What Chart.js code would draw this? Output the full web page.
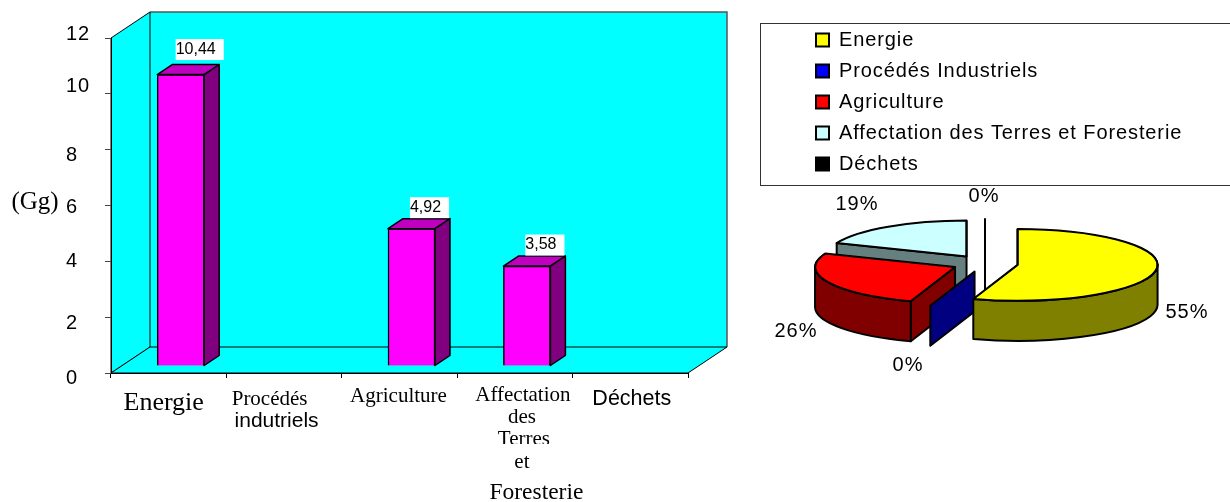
<!DOCTYPE html>
<html>
<head>
<meta charset="utf-8">
<title>Emissions par secteur</title>
<script src="https://cdn.jsdelivr.net/npm/chart.js"></script>
<style>
    body { margin: 0; background: #fff; overflow: hidden; }
    canvas { position: absolute; top: 0; }
    #barChart { left: 0; }
    #pieChart { left: 760px; }
</style>
</head>
<body>
<canvas id="barChart" width="760" height="502"></canvas>
<canvas id="pieChart" width="470" height="502"></canvas>
<script>
// Data
const categories = ['Energie', 'Procédés industriels', 'Agriculture', 'Affectation des Terres et Foresterie', 'Déchets'];
const pieLabels = ['Energie', 'Procédés Industriels', 'Agriculture', 'Affectation des Terres et Foresterie', 'Déchets'];
const values = [10.44, 0, 4.92, 3.58, 0];
const yTicks = [0, 2, 4, 6, 8, 10, 12];
const sliceColors = ['#FFFF00', '#0000FF', '#FF0000', '#CCFFFF', '#000000'];
const wallColors = ['#808000', '#000080', '#800000', '#668080', '#000000'];

const SANS = '"Liberation Sans"';
const SERIF = '"Liberation Serif"';

// Hand-placed category text, x relative to the category centre
const xLabelLines = [
    [{ t: 'Energie', dx: -5, y: 403, f: SERIF, s: 26 }],
    [{ t: 'Procédés', dx: -14.5, y: 399, f: SERIF, s: 21 }, { t: 'indutriels', dx: -7.5, y: 421, f: SANS, s: 21 }],
    [{ t: 'Agriculture', dx: -1, y: 396, f: SERIF, s: 21 }],
    [
        { t: 'Affectation', dx: 8, y: 395, f: SERIF, s: 21 },
        { t: 'des', dx: 7, y: 417, f: SERIF, s: 21 },
        { t: 'Terres', dx: 9, y: 439, f: SERIF, s: 21, clipBelow: 444 },
        { t: 'et', dx: 7, y: 462, f: SERIF, s: 21 },
        { t: 'Foresterie', dx: 21.5, y: 493, f: SERIF, s: 23.5 }
    ],
    [{ t: 'Déchets', dx: 1.5, y: 399, f: SANS, s: 21.5 }]
];

// Vertical shift of the value axis text against its tick marks
const yLabelShift = [5, 6, 0, 2, 6, -7, -4];
// Shift of the white value boxes against their bars
const valueBoxShift = [[1, -4], [0, 0], [0, 0], [0, 0], [0, 0]];

// Bar chart box: walls, bar depth
const WALL_DX = 39, WALL_DY = 26;
const BAR_SHIFT_X = 12, BAR_SHIFT_Y = -7;
const BAR_DX = 15, BAR_DY = 10;

function poly(ctx, pts, fill, stroke, width) {
    ctx.beginPath();
    pts.forEach((p, i) => i ? ctx.lineTo(p[0], p[1]) : ctx.moveTo(p[0], p[1]));
    ctx.closePath();
    if (fill) { ctx.fillStyle = fill; ctx.fill(); }
    if (stroke) { ctx.strokeStyle = stroke; ctx.lineWidth = width || 1; ctx.lineJoin = 'round'; ctx.stroke(); }
}

const box3d = {
    id: 'box3d',
    beforeDraw(chart) {
        const ctx = chart.ctx, a = chart.chartArea;
        const l = a.left, r = a.right, t = a.top, b = a.bottom;
        ctx.save();
        // back wall
        poly(ctx, [[l + WALL_DX, t - WALL_DY], [r + WALL_DX, t - WALL_DY], [r + WALL_DX, b - WALL_DY], [l + WALL_DX, b - WALL_DY]], '#00FFFF');
        // top and right edges of the back wall are grey
        ctx.strokeStyle = '#555';
        ctx.lineWidth = 1.5;
        ctx.beginPath();
        ctx.moveTo(l + WALL_DX, t - WALL_DY);
        ctx.lineTo(r + WALL_DX, t - WALL_DY);
        ctx.lineTo(r + WALL_DX, b - WALL_DY);
        ctx.stroke();
        // side wall and floor
        poly(ctx, [[l, t], [l + WALL_DX, t - WALL_DY], [l + WALL_DX, b - WALL_DY], [l, b]], '#00FFFF', '#000');
        poly(ctx, [[l, b], [l + WALL_DX, b - WALL_DY], [r + WALL_DX, b - WALL_DY], [r, b]], '#00FFFF', '#000');
        ctx.restore();
    },
    beforeDatasetsDraw(chart) {
        chart.ctx.save();
        chart.ctx.translate(BAR_SHIFT_X, BAR_SHIFT_Y);
    },
    afterDatasetsDraw(chart) {
        const ctx = chart.ctx;
        chart.getDatasetMeta(0).data.forEach(bar => {
            if (bar.base - bar.y < 1) return;
            const x1 = bar.x - bar.width / 2, x2 = bar.x + bar.width / 2;
            poly(ctx, [[x1, bar.y], [x1 + BAR_DX, bar.y - BAR_DY], [x2 + BAR_DX, bar.y - BAR_DY], [x2, bar.y]], '#C000C0', '#000', 1.5);
            poly(ctx, [[x2, bar.y], [x2 + BAR_DX, bar.y - BAR_DY], [x2 + BAR_DX, bar.base - BAR_DY], [x2, bar.base]], '#800080', '#000', 1.5);
        });
        ctx.restore();
        drawBarText(chart);
    }
};

function drawBarText(chart) {
    const ctx = chart.ctx, meta = chart.getDatasetMeta(0), xScale = chart.scales.x, yScale = chart.scales.y;
    ctx.save();
    ctx.fillStyle = '#000';
    ctx.textBaseline = 'middle';

    // value axis text, left aligned
    ctx.font = '20px ' + SANS;
    ctx.textAlign = 'left';
    ctx.letterSpacing = '1px';
    yTicks.forEach((v, i) => {
        ctx.fillText(String(v), 66, yScale.getPixelForValue(v) + yLabelShift[i]);
    });
    ctx.letterSpacing = '0px';

    // value labels above the bars
    ctx.font = '16px ' + SANS;
    meta.data.forEach((bar, i) => {
        if (!values[i]) return;
        const text = values[i].toFixed(2).replace('.', ',');
        const w = ctx.measureText(text).width + 8;
        const left = bar.x + BAR_SHIFT_X + BAR_DX + 3 + valueBoxShift[i][0] - w / 2;
        const cy = bar.y + BAR_SHIFT_Y - BAR_DY - 11 + valueBoxShift[i][1];
        ctx.fillStyle = '#fff';
        ctx.fillRect(left, cy - 10.5, w, 21);
        ctx.fillStyle = '#000';
        ctx.fillText(text, left, cy);
    });

    // category text
    ctx.textAlign = 'center';
    xLabelLines.forEach((lines, i) => {
        lines.forEach(line => {
            ctx.save();
            if (line.clipBelow) {
                ctx.beginPath();
                ctx.rect(0, 0, chart.width, line.clipBelow);
                ctx.clip();
            }
            ctx.font = line.s + 'px ' + line.f;
            ctx.fillText(line.t, xScale.getPixelForValue(i) + line.dx, line.y);
            ctx.restore();
        });
    });
    ctx.font = '25px ' + SERIF;
    ctx.fillText('(Gg)', 35, 202);
    ctx.restore();
}

new Chart(document.getElementById('barChart'), {
    type: 'bar',
    plugins: [box3d],
    data: {
        labels: categories,
        datasets: [{
            data: values,
            backgroundColor: '#FF00FF',
            borderColor: '#000',
            borderWidth: 1.5,
            barThickness: 47,
            clip: false
        }]
    },
    options: {
        responsive: false,
        animation: false,
        layout: { padding: { left: 66, top: 38, right: 72, bottom: 129 } },
        plugins: { legend: { display: false }, tooltip: { enabled: false } },
        scales: {
            x: {
                afterFit: s => { s.height = 0; },
                border: { color: '#000' },
                grid: { drawOnChartArea: false, color: '#000', tickLength: 5 },
                ticks: { display: false }
            },
            y: {
                min: 0,
                max: 12,
                afterFit: s => { s.width = 45; },
                afterBuildTicks: s => { s.ticks = yTicks.map(v => ({ value: v })); },
                border: { color: '#000' },
                grid: { drawOnChartArea: false, color: '#444', tickLength: 6 },
                ticks: { display: false }
            }
        }
    }
});

// Pie: flattened, exploded slices with an extruded rim
const PIE_X = 225, PIE_Y = 263.5, PIE_R = 140, SQUASH = 0.257, PIE_DEPTH = 40, EXPLODE = 33;
const pctLabels = [
    { x: 427, y: 312 },
    { x: 148, y: 365 },
    { x: 36, y: 331 },
    { x: 97, y: 204 },
    { x: 224, y: 196 }
];

function drawSlice(ctx, el, i) {
    const a0 = el.startAngle, a1 = el.endAngle, mid = (a0 + a1) / 2;
    const sx = PIE_X + EXPLODE * Math.cos(mid);
    const sy = PIE_Y + EXPLODE * Math.sin(mid) * SQUASH;
    const px = a => sx + PIE_R * Math.cos(a);
    const py = a => sy + PIE_R * Math.sin(a) * SQUASH;
    const face = a => poly(ctx, [[sx, sy], [px(a), py(a)], [px(a), py(a) + PIE_DEPTH], [sx, sy + PIE_DEPTH]], wallColors[i], '#000', 2);

    if (a1 - a0 < 1e-6) {
        // a zero share is only a radial sliver
        face(a0);
        return;
    }
    // cut faces turned towards the viewer
    if (-Math.cos(a0) > 1e-6) face(a0);
    if (Math.cos(a1) > 1e-6) face(a1);
    // rim, front half only
    const from = Math.max(a0, 0), to = Math.min(a1, Math.PI);
    if (to > from) {
        ctx.beginPath();
        ctx.ellipse(sx, sy, PIE_R, PIE_R * SQUASH, 0, from, to);
        ctx.ellipse(sx, sy + PIE_DEPTH, PIE_R, PIE_R * SQUASH, 0, to, from, true);
        ctx.closePath();
        ctx.fillStyle = wallColors[i];
        ctx.fill();
        ctx.strokeStyle = '#000';
        ctx.lineWidth = 2;
        ctx.stroke();
    }
    // top face
    ctx.save();
    ctx.translate(sx, sy);
    ctx.scale(1, SQUASH);
    ctx.translate(-el.x, -el.y);
    el.draw(ctx);
    ctx.restore();
    ctx.beginPath();
    ctx.moveTo(sx, sy);
    ctx.ellipse(sx, sy, PIE_R, PIE_R * SQUASH, 0, a0, a1);
    ctx.closePath();
    ctx.strokeStyle = '#000';
    ctx.lineWidth = 2;
    ctx.lineJoin = 'round';
    ctx.stroke();
}

const pie3d = {
    id: 'pie3d',
    afterLayout(chart) {
        // a vertical legend always starts at the canvas top, push it into its frame
        chart.legend.top += 19;
        chart.legend.bottom += 19;
    },
    beforeDraw(chart) {
        const ctx = chart.ctx;
        // frame around the legend, open past the right edge
        ctx.strokeStyle = '#333';
        ctx.lineWidth = 1;
        ctx.strokeRect(0.5, 23.5, 500, 162);
        ctx.letterSpacing = '0.9px';
    },
    beforeDatasetsDraw(chart) {
        const ctx = chart.ctx, arcs = chart.getDatasetMeta(0).data;
        const total = values.reduce((a, b) => a + b, 0);
        ctx.save();
        [4, 3, 2, 1, 0].forEach(i => drawSlice(ctx, arcs[i], i));
        ctx.fillStyle = '#000';
        ctx.font = '20px ' + SANS;
        ctx.textAlign = 'center';
        ctx.textBaseline = 'middle';
        ctx.letterSpacing = '1px';
        values.forEach((v, i) => {
            ctx.fillText(Math.round(v / total * 100) + '%', pctLabels[i].x, pctLabels[i].y);
        });
        ctx.restore();
        return false;
    }
};

new Chart(document.getElementById('pieChart'), {
    type: 'pie',
    plugins: [pie3d],
    data: {
        labels: pieLabels,
        datasets: [{
            data: values,
            backgroundColor: sliceColors,
            borderColor: '#000',
            borderWidth: 2
        }]
    },
    options: {
        responsive: false,
        animation: false,
        radius: PIE_R,
        layout: { padding: { left: 45 } },
        plugins: {
            tooltip: { enabled: false },
            legend: {
                position: 'chartArea',
                align: 'start',
                labels: {
                    boxWidth: 13,
                    boxHeight: 13,
                    padding: 11,
                    color: '#000',
                    font: { family: 'Liberation Sans', size: 20 }
                }
            }
        }
    }
});
</script>
</body>
</html>
